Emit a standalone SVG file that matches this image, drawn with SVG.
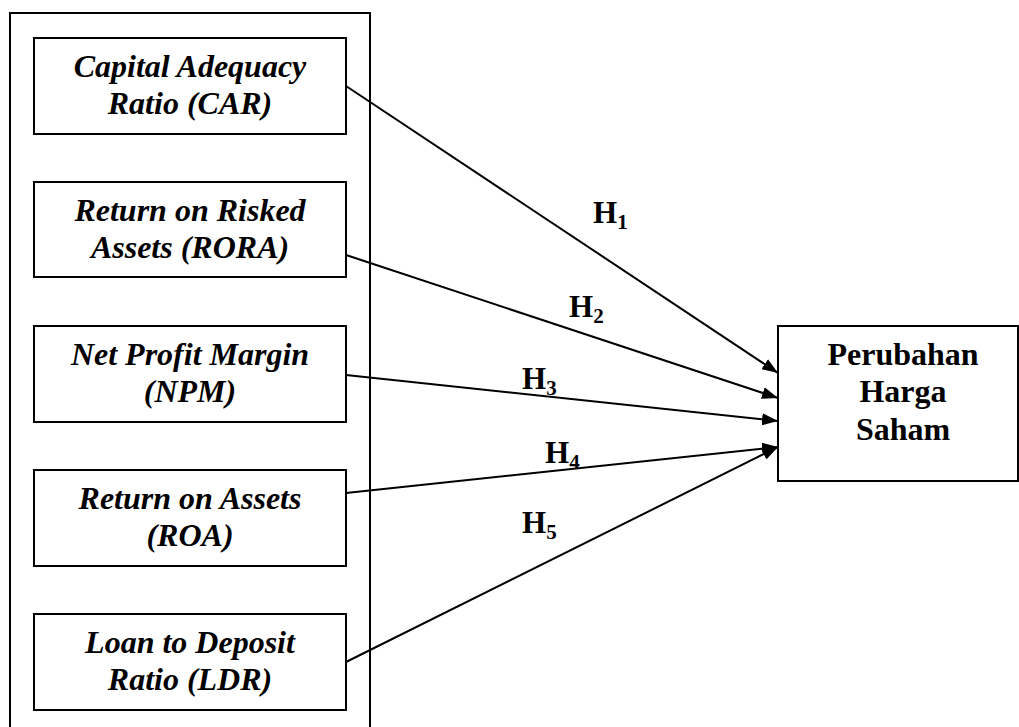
<svg xmlns="http://www.w3.org/2000/svg" width="1019" height="727" viewBox="0 0 1019 727">
<defs>
<style>
.box{fill:#fff;stroke:#000;stroke-width:2}
.lbl{font-family:"Liberation Serif","Times New Roman",serif;font-size:32px;font-weight:bold;font-style:italic;fill:#000;text-anchor:middle}
.out{font-family:"Liberation Serif","Times New Roman",serif;font-size:32px;font-weight:bold;fill:#000;text-anchor:middle}
.h{font-family:"Liberation Serif","Times New Roman",serif;font-size:31px;font-weight:bold;fill:#000}
.sub{font-size:21px}
.con{stroke:#000;stroke-width:2;fill:none;marker-end:url(#arr)}
</style>
<marker id="arr" viewBox="0 0 16 12" refX="16" refY="6" markerWidth="16" markerHeight="12" markerUnits="userSpaceOnUse" orient="auto">
<path d="M0,0 L16,6 L0,12 Z" fill="#000"/>
</marker>
</defs>
<rect x="0" y="0" width="1019" height="727" fill="#fff"/>
<g id="outer"><rect class="box" x="10" y="13" width="360" height="730"/></g>
<g id="n-car"><rect class="box" x="34" y="38" width="312" height="96"/><text class="lbl" x="190" y="77">Capital Adequacy</text><text class="lbl" x="190" y="114">Ratio (CAR)</text></g>
<g id="n-rora"><rect class="box" x="34" y="182" width="312" height="95"/><text class="lbl" x="190" y="221">Return on Risked</text><text class="lbl" x="190" y="258">Assets (RORA)</text></g>
<g id="n-npm"><rect class="box" x="34" y="326" width="312" height="96"/><text class="lbl" x="190" y="365">Net Profit Margin</text><text class="lbl" x="190" y="402">(NPM)</text></g>
<g id="n-roa"><rect class="box" x="34" y="470" width="312" height="96"/><text class="lbl" x="190" y="509">Return on Assets</text><text class="lbl" x="190" y="546">(ROA)</text></g>
<g id="n-ldr"><rect class="box" x="34" y="614" width="312" height="96"/><text class="lbl" x="190" y="653">Loan to Deposit</text><text class="lbl" x="190" y="690">Ratio (LDR)</text></g>
<g id="n-phs"><rect class="box" x="778" y="326" width="240" height="155"/><text class="out" x="903" y="365">Perubahan</text><text class="out" x="903" y="402">Harga</text><text class="out" x="903" y="440">Saham</text></g>
<g id="connectors">
<line class="con" x1="346" y1="86" x2="778" y2="373"/>
<line class="con" x1="346" y1="255" x2="778" y2="398"/>
<line class="con" x1="346" y1="375" x2="778" y2="421"/>
<line class="con" x1="346" y1="493" x2="778" y2="447"/>
<line class="con" x1="346" y1="662" x2="778" y2="447"/>
</g>
<g id="labels">
<text class="h" x="593" y="223">H<tspan class="sub" dy="6">1</tspan></text>
<text class="h" x="569" y="317">H<tspan class="sub" dy="6">2</tspan></text>
<text class="h" x="522" y="389">H<tspan class="sub" dy="6">3</tspan></text>
<text class="h" x="545" y="463">H<tspan class="sub" dy="6">4</tspan></text>
<text class="h" x="522" y="533">H<tspan class="sub" dy="6">5</tspan></text>
</g>
</svg>
